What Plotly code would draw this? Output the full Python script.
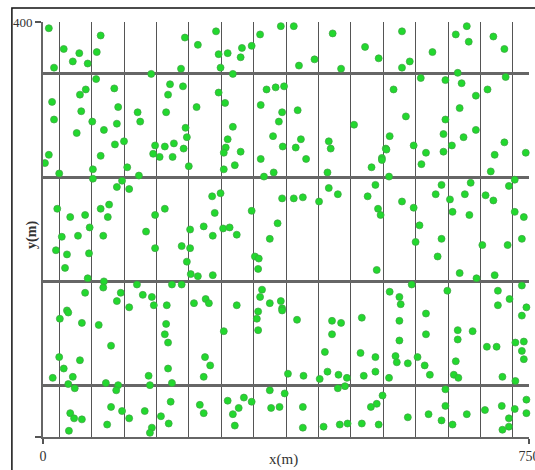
import plotly.graph_objects as go

# Point positions (metres)
x_m = [9, 32, 46, 56, 69, 83, 89, 17, 82, 167, 57, 66, 14, 110, 59, 116, 17, 76, 114, 52,
       94, 146, 150, 196, 193, 190, 111, 125, 173, 188, 202, 9, 89, 170, 180, 200, 213,
       219, 239, 267, 271, 285, 274, 293, 307, 305, 322, 335, 367, 387, 395, 419, 447, 460,
       216, 271, 281, 237, 345, 359, 372, 336, 369, 364, 393, 220, 222, 293, 285, 217, 282,
       279, 305, 355, 370, 390, 398, 441, 444, 336, 406,
       497, 518, 554, 554, 566, 601, 637, 654, 657, 695, 712, 583, 621, 640, 646, 714, 541,
       686, 668, 643, 560, 480, 621, 618, 535, 529, 572, 591, 618, 631, 649, 668, 712, 697,
       745, 523,
       3, 25, 77, 77, 130, 122, 114, 133, 148, 22, 42, 65, 89, 102, 100, 72, 29, 54, 93, 20,
       37, 71, 34, 159, 173, 188, 173, 69, 94, 93, 65, 120, 114, 145, 154, 168, 171, 191,
       199, 133, 37,
       225, 296, 279, 356, 341, 439, 261, 274, 265, 322, 369, 387, 401, 426, 441, 455, 227,
       248, 278, 288, 299, 262, 214, 227, 222, 228, 239, 262, 214, 327, 333, 332, 362, 350,
       338, 335, 350, 367, 369, 233, 251, 256, 299,
       530, 523, 507, 584, 691, 534, 513, 501, 554, 517, 521, 572, 581, 575, 615, 606, 628,
       632, 660, 651, 658, 683, 695, 719, 728, 728, 742, 739, 717, 678, 615, 609, 515, 643,
       669, 697, 569, 535, 550, 552, 624, 702, 720, 702, 739, 746,
       26, 39, 60, 86, 190, 188, 193, 105, 25, 57, 32, 15, 46, 39, 49, 97, 116, 113, 163,
       165, 193, 199, 197, 42, 48, 60, 40, 105, 122, 133, 99, 157, 182, 194, 168, 165,
       369, 332, 330, 332, 279, 392, 446, 460, 446, 435, 250, 258, 248, 378, 402, 439, 456,
       469, 427, 455, 466, 350, 373, 322, 310, 302, 285, 293, 296, 242, 248, 352, 365, 401,
       401, 433, 458, 470,
       492, 550, 591, 591, 640, 640, 663, 550, 739, 729, 742, 739, 742, 685, 700, 490, 513,
       544, 546, 563, 578, 589, 597, 637, 634, 641, 495, 513, 534, 709, 729, 621, 621, 524,
       515, 506, 492, 518, 563, 595, 615, 632, 654, 682, 708, 719, 719, 709, 728, 746, 746]

y_m = [394, 374, 362, 370, 360, 371, 387, 356, 345, 350, 330, 335, 323, 336, 314, 318, 306,
       304, 302, 293, 296, 313, 304, 340, 330, 313, 282, 285, 281, 280, 283, 272, 271, 273,
       270, 270, 355,
       385, 378, 391, 369, 370, 356, 350, 375, 366, 377, 388, 396, 396, 358, 364, 389, 355,
       338, 332, 322, 318, 335, 337, 338, 320, 313, 304, 315, 298, 289, 299, 287, 278, 279,
       274, 275, 290, 280, 279, 287, 285, 278, 268, 268,
       376, 365, 391, 356, 362, 371, 388, 396, 381, 386, 374, 346, 344, 351, 341, 347, 335,
       335, 329, 317, 309, 301, 306, 292, 290, 278, 281, 274, 275, 281, 289, 296, 284, 272,
       274, 269,
       264, 254, 258, 249, 260, 247, 241, 239, 252, 220, 212, 214, 220, 224, 212, 202, 193,
       194, 194, 180, 176, 177, 163, 198, 214, 220, 182, 153, 150, 144, 139, 139, 131, 147,
       137, 135, 127, 127, 147, 125, 122,
       261, 262, 258, 255, 251, 255, 232, 235, 216, 218, 230, 230, 231, 227, 240, 234, 200,
       203, 201, 202, 195, 194, 184, 182, 169, 157, 155, 156, 147, 174, 172, 162, 206, 191,
       142, 135, 129, 131, 124, 129, 133, 129, 127,
       277, 267, 260, 263, 256, 251, 243, 232, 227, 220, 214, 221, 204, 188, 243, 234, 229,
       217, 245, 234, 214, 233, 228, 242, 248, 217, 212, 191, 185, 185, 191, 174, 161, 158,
       153, 156, 147, 140, 135, 128, 141, 141, 133, 127, 146, 125,
       114, 120, 110, 108, 109, 99, 91, 88, 77, 74, 66, 57, 58, 51, 47, 52, 50, 45, 59, 50,
       66, 52, 34, 23, 18, 17, 6, 29, 25, 18, 12, 25, 20, 13, 9, 4,
       122, 121, 114, 103, 102, 113, 112, 110, 99, 82, 77, 69, 58, 61, 59, 63, 60, 57, 56,
       47, 49, 45, 42, 34, 38, 28, 35, 22, 11, 31, 23, 28, 29, 29, 9, 10, 12, 13,
       115, 112, 119, 99, 103, 94, 102, 93, 117, 91, 92, 83, 75, 87, 87, 81, 77, 78, 72, 71,
       77, 69, 60, 73, 60, 57, 59, 63, 57, 58, 54, 46, 30, 40, 32, 29, 13, 12, 19, 22, 16,
       12, 22, 26, 30, 18, 10, 7, 27, 23, 36]

# Grid divisions and tick labels
x_grid = [25, 75, 125, 175, 225, 275, 325, 375, 425, 475, 525, 575, 625, 675, 725]
y_grid = [50, 150, 250, 350]
x_ticks = [0, 750]
x_ticklabels = ["0", "750"]
y_ticks = [0, 400]
y_ticklabels = ["", "400"]

serif = "Liberation Serif, Times New Roman, serif"

fig = go.Figure()
fig.add_trace(go.Scatter(
    x=x_m, y=y_m, mode="markers",
    marker=dict(size=7, color="#22d82e", line=dict(width=0.7, color="#3fa043")),
    hoverinfo="x+y", showlegend=False, cliponaxis=False,
))

fig.update_layout(
    width=535, height=470,
    margin=dict(l=43, r=6, t=22, b=33, autoexpand=False),
    paper_bgcolor="white", plot_bgcolor="white",
    font=dict(family=serif, size=13, color="#222"),
    xaxis=dict(
        range=[0, 750], tickvals=x_ticks, ticktext=x_ticklabels,
        ticks="outside", ticklen=5, tickwidth=1.5, tickcolor="#555",
        showline=True, linecolor="#666", linewidth=2,
        showgrid=True, gridcolor="#555", gridwidth=1.5, zeroline=False,
        minor=dict(tickvals=x_grid, showgrid=True, gridcolor="#555", gridwidth=1.3, ticks=""),
        tickfont=dict(family=serif, size=14, color="#333"),
        ticklabeloverflow="allow", automargin=False,
    ),
    yaxis=dict(
        range=[0, 400], tickvals=y_ticks, ticktext=y_ticklabels,
        ticks="outside", ticklen=6, tickwidth=1.5, tickcolor="#555",
        showline=True, linecolor="#666", linewidth=2,
        showgrid=True, gridcolor="#666", gridwidth=3, zeroline=False,
        minor=dict(tickvals=y_grid, showgrid=True, gridcolor="#666", gridwidth=2.5, ticks=""),
        tickfont=dict(family=serif, size=13, color="#333"),
        ticklabeloverflow="allow", automargin=False,
    ),
    annotations=[
        dict(text="y(m)", xref="paper", yref="paper", x=-0.0226, y=0.487,
             textangle=-90, showarrow=False, xanchor="center", yanchor="middle",
             font=dict(family=serif, size=14, color="#333", weight="bold")),
        dict(text="x(m)", xref="paper", yref="paper", x=0.494, y=-0.0554,
             showarrow=False, xanchor="center", yanchor="middle",
             font=dict(family=serif, size=15, color="#333")),
    ],
    shapes=[
        dict(type="rect", xref="paper", yref="paper", x0=-0.064, x1=1.03, y0=-0.2, y1=1.034,
             line=dict(color="#111", width=1.5), fillcolor="rgba(0,0,0,0)", layer="below"),
    ],
)

fig.write_html("out.html", config={"displayModeBar": False},
               post_script="document.body.style.margin='0';")
